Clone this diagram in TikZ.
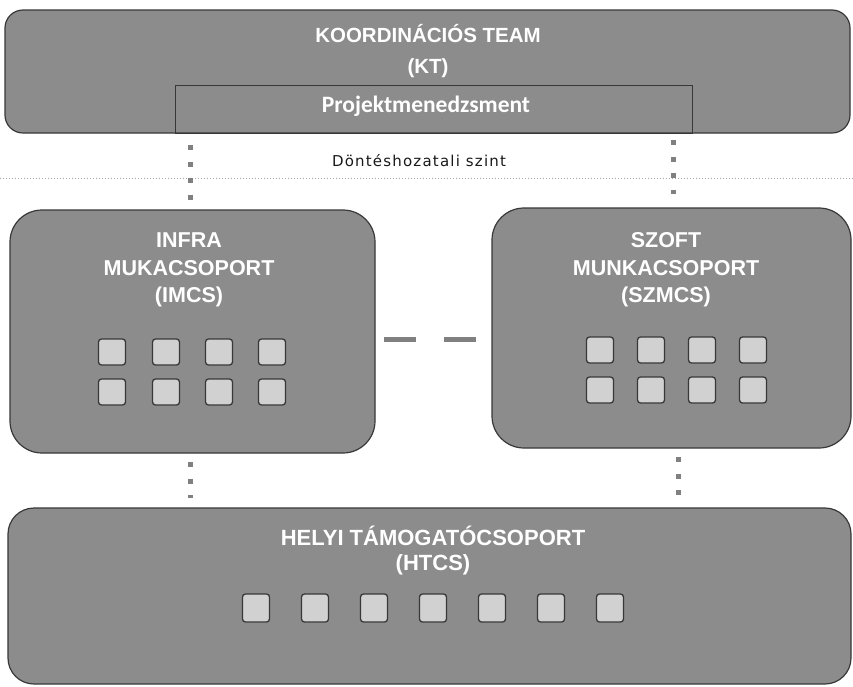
\documentclass[tikz,border=0pt]{standalone}
\usepackage{fontspec}
\setmainfont{Liberation Sans}
\newfontfamily\calfont{Carlito}
\newfontfamily\djfont[LetterSpace=8]{DejaVu Sans}
\definecolor{hatch}{gray}{0.55}
\definecolor{edge}{gray}{0.22}
\definecolor{sqfill}{gray}{0.82}
\definecolor{dotcol}{gray}{0.5}
\begin{document}
\begin{tikzpicture}[x=1pt,y=-1pt,
  grp/.style={draw=edge, line width=1.2pt, fill=hatch, rounded corners=#1, inner sep=0pt},
  title/.style={text=white, font=\bfseries\fontsize{20.5}{24}\selectfont, anchor=base, inner sep=0pt},
  sq/.style={draw=edge, line width=1.3pt, fill=sqfill, rounded corners=3pt, minimum width=27pt, minimum height=26pt, inner sep=0pt},
  bsq/.style={sq, minimum width=27pt, minimum height=28pt},
  dotc/.style={draw=dotcol, line width=5pt, dash pattern=on 5pt off 11.5pt},
  dashc/.style={draw=dotcol, line width=5pt, dash pattern=on 32pt off 28pt},
  sepline/.style={draw=gray!70, line width=0.7pt, dash pattern=on 1pt off 2pt}
]
\useasboundingbox (0,0) rectangle (853,686);

% separator line
\coordinate (hl) at (0,178);
\coordinate (hr) at (853,178);
\draw[sepline] (hl) -- (hr);
\node[font=\djfont\fontsize{15}{18}\selectfont, text=black!90, anchor=base, inner sep=0pt] (dsz) at (419,166) {Döntéshozatali szint};

% group boxes
\node[grp=18pt, minimum width=845pt, minimum height=123pt] (kt) at (427.5,71.5) {};
\node[draw=edge, line width=1pt, minimum width=517pt, minimum height=48pt, inner sep=0pt] (pm) at (433.5,109) {};
\node[grp=32pt, minimum width=365pt, minimum height=243pt] (imcs) at (192.5,331.5) {};
\node[grp=32pt, minimum width=359pt, minimum height=240pt] (szmcs) at (671.5,328) {};
\node[grp=26pt, minimum width=843pt, minimum height=176pt] (htcs) at (429.5,596) {};

% titles
\node[title] (kt1) at (428,42) {KOORDINÁCIÓS TEAM};
\node[title] (kt2) at (428,73) {(KT)};
\node[text=white, font=\calfont\bfseries\fontsize{23.5}{26}\selectfont, anchor=base, inner sep=0pt] (pmt) at (426,112) {Projektmenedzsment};

\node[title, font=\bfseries\fontsize{21.5}{24}\selectfont] (im1) at (189,247) {INFRA};
\node[title, font=\bfseries\fontsize{21.5}{24}\selectfont] (im2) at (189,275) {MUKACSOPORT};
\node[title, font=\bfseries\fontsize{21.5}{24}\selectfont] (im3) at (189,302) {(IMCS)};

\node[title, font=\bfseries\fontsize{21.5}{24}\selectfont] (sz1) at (666,247) {SZOFT};
\node[title, font=\bfseries\fontsize{21.5}{24}\selectfont] (sz2) at (666,275) {MUNKACSOPORT};
\node[title, font=\bfseries\fontsize{21.5}{24}\selectfont] (sz3) at (666,302) {(SZMCS)};

\node[title, font=\bfseries\fontsize{22}{24}\selectfont] (ht1) at (433,545) {HELYI TÁMOGATÓCSOPORT};
\node[title, font=\bfseries\fontsize{22}{24}\selectfont] (ht2) at (433,570) {(HTCS)};

% member squares
\foreach \x [count=\i] in {112,166,219,272} {
  \node[sq] (ia\i) at (\x,352) {};
  \node[sq] (ib\i) at (\x,392) {};
}
\foreach \x [count=\i] in {600,651,702,753} {
  \node[sq] (sa\i) at (\x,350) {};
  \node[sq] (sb\i) at (\x,390) {};
}
\foreach \x [count=\i] in {256,315,374,433,492,551,610} {
  \node[bsq] (h\i) at (\x,608) {};
}

% connectors
\coordinate (cl) at (190,0);
\coordinate (cr) at (673,0);
\coordinate (cr2) at (678,0);
\coordinate (cy) at (0,339);
\draw[dotc, shorten <=11.5pt, shorten >=9.5pt] (cl |- kt.south) -- (cl |- imcs.north);
\draw[dotc, shorten <=6.5pt, shorten >=13.5pt] (cr |- kt.south) -- (cr |- szmcs.north);
\draw[dotc, shorten <=8.5pt, shorten >=9.5pt] (cl |- imcs.south) -- (cl |- htcs.north);
\draw[dotc, shorten <=8.5pt, shorten >=11.5pt] (cr2 |- szmcs.south) -- (cr2 |- htcs.north);
\draw[dashc, shorten <=8pt, shorten >=15pt] (imcs.east |- cy) -- (szmcs.west |- cy);
\end{tikzpicture}
\end{document}
